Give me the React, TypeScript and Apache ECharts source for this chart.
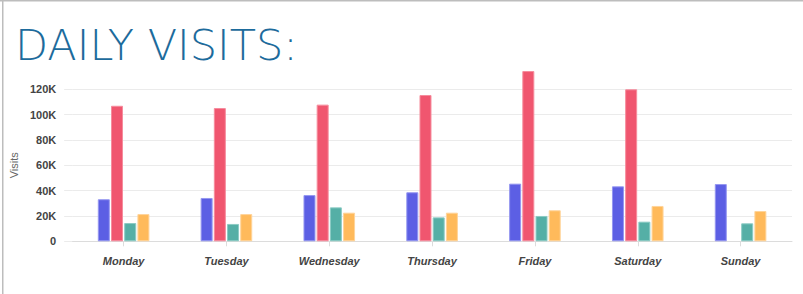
import React, { useEffect, useRef } from "react";
import * as echarts from "echarts";

const days = ["Monday", "Tuesday", "Wednesday", "Thursday", "Friday", "Saturday", "Sunday"];
const seriesA = [33200, 34200, 36500, 38700, 45500, 43400, 45200];
const seriesB = [107000, 105200, 107900, 115500, 134400, 120000, null];
const seriesC = [14400, 13700, 26800, 18900, 20000, 15500, 14200];
const seriesD = [21500, 21500, 22600, 22600, 24500, 27900, 23900];
const yTicks = [0, 20000, 40000, 60000, 80000, 100000, 120000];

const colors = ["#5c5fe4", "#f0566f", "#55afa6", "#ffba5b"];
const borders = ["#9597f0", "#f68c9d", "#8ccbc4", "#ffd49a"];

export default function App() {
  const ref = useRef<HTMLDivElement>(null);
  useEffect(() => {
    if (!ref.current) return;
    const chart = echarts.init(ref.current, null, { renderer: "svg" });
    const mk = (name: string, data: (number | null)[], i: number) => ({
      name,
      type: "bar",
      data,
      barWidth: 12,
      barGap: "10%",
      clip: false,
      itemStyle: { color: colors[i], borderColor: borders[i], borderWidth: 1 },
    });
    chart.setOption({
      animation: false,
      backgroundColor: "#ffffff",
      textStyle: { fontFamily: "'Liberation Sans', Arial, sans-serif" },
      graphic: [
        { type: "rect", shape: { x: 0, y: 0, width: 803, height: 1.5 }, style: { fill: "#bdbdbd" }, silent: true },
        { type: "rect", shape: { x: 2, y: 0, width: 1.5, height: 294 }, style: { fill: "#bdbdbd" }, silent: true },
        {
          type: "text",
          left: 15,
          top: 23,
          style: {
            text: "DAILY VISITS:",
            fill: "#1d6b9c",
            font: "200 43px 'DejaVu Sans', sans-serif",
          },
        },
      ],
      grid: { left: 71, right: 11, top: 89.3, bottom: 52.7 },
      xAxis: {
        type: "category",
        data: days,
        axisLine: { lineStyle: { color: "#dcdcdc", width: 1 } },
        axisTick: { show: true, alignWithLabel: true, length: 5, lineStyle: { color: "#dcdcdc" } },
        axisLabel: {
          margin: 14,
          color: "#444",
          fontSize: 11,
          fontStyle: "italic",
          fontWeight: "bold",
        },
      },
      yAxis: {
        type: "value",
        min: 0,
        max: 120000,
        interval: 20000,
        name: "Visits",
        nameLocation: "middle",
        nameGap: 52,
        nameTextStyle: { color: "#666", fontSize: 11 },
        axisLine: { show: false },
        axisTick: { show: true, length: 8, lineStyle: { color: "#ebebeb" } },
        splitLine: { lineStyle: { color: "#ebebeb" } },
        axisLabel: {
          margin: 16,
          color: "#444",
          fontSize: 11,
          fontWeight: "bold",
          formatter: (v: number) => (yTicks.includes(v) ? (v === 0 ? "0" : v / 1000 + "K") : ""),
        },
      },
      series: [mk("A", seriesA, 0), mk("B", seriesB, 1), mk("C", seriesC, 2), mk("D", seriesD, 3)],
    });
    return () => chart.dispose();
  }, []);
  return (
    <div
      ref={ref}
      style={{ position: "fixed", left: 0, top: 0, width: 803, height: 294 }}
    />
  );
}
